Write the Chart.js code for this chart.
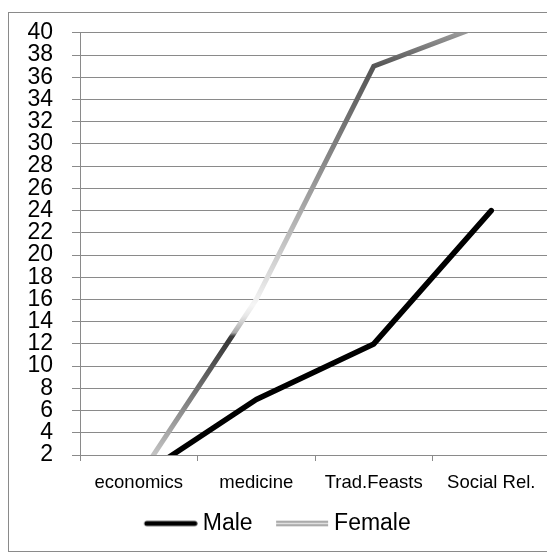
<!DOCTYPE html>
<html>
<head>
<meta charset="utf-8">
<script src="https://cdn.jsdelivr.net/npm/chart.js@4.4.1/dist/chart.umd.min.js"></script>
<style>
    body { margin: 0; background: #fff; overflow: hidden; }
    #frame { position: absolute; left: 8px; top: 12px; width: 600px; height: 538px; border: 1px solid #8a8a8a; }
    #wrap { position: absolute; left: -8px; top: 0; width: 568px; height: 558px; }
</style>
</head>
<body>
<div id="frame"></div>
<div id="wrap"><canvas id="genderChart"></canvas></div>
<script>
const categories = ['economics', 'medicine', 'Trad.Feasts', 'Social Rel.'];
const maleValues = [0, 7, 12, 24];
const femaleValues = [0, 16, 37, 41];
const yMin = 2;
const yMax = 40;
const yStep = 2;

// greyscale stops of the female line, keyed by axis value
const femaleStops = [
    [2, '#c4c4c4'], [4, '#a8a8a8'], [6, '#8c8c8c'], [8, '#707070'], [10, '#555555'],
    [12.3, '#383838'], [12.7, '#404040'], [13, '#a8a8a8'], [14.5, '#e6e6e6'],
    [15.5, '#f6f6f6'], [17.5, '#e2e2e2'], [20.5, '#c8c8c8'], [24.5, '#a6a6a6'],
    [29, '#858585'], [33.5, '#6a6a6a'], [37, '#555555'], [40, '#9a9a9a']
];

function femaleGradient(context) {
    const chart = context.chart;
    const { ctx, chartArea, scales } = chart;
    if (!chartArea) return '#999';
    const y0 = scales.y.getPixelForValue(yMin);
    const y1 = scales.y.getPixelForValue(yMax);
    const g = ctx.createLinearGradient(0, y0, 0, y1);
    femaleStops.forEach(s => g.addColorStop((s[0] - yMin) / (yMax - yMin), s[1]));
    return g;
}

// legend samples: transparent margin on the left gives the gap between items
const sampleMargin = 19;
const sampleLen = 54;
function legendImage(kind) {
    const c = document.createElement('canvas');
    const m = sampleMargin;
    c.width = m + sampleLen; c.height = 8;
    const x = c.getContext('2d');
    if (kind === 'male') {
        x.strokeStyle = '#000';
        x.lineWidth = 5;
        x.lineCap = 'round';
        x.beginPath(); x.moveTo(m + 3, 4); x.lineTo(m + sampleLen - 3, 4); x.stroke();
    } else {
        x.fillStyle = '#8f8f8f';
        x.fillRect(m + 1, 1.5, sampleLen - 2, 5);
        x.fillStyle = '#f4f4f4';
        x.fillRect(m + 1, 3.2, sampleLen - 2, 1.6);
    }
    return c;
}
const legendImgs = [legendImage('male'), legendImage('female')];

const ctx = document.getElementById('genderChart').getContext('2d');
const genderChart = new Chart(ctx, {
    type: 'line',
    data: {
        labels: categories,
        datasets: [{
            label: 'Male',
            data: maleValues,
            borderColor: '#000',
            borderWidth: 5.5,
            borderCapStyle: 'round',
            borderJoinStyle: 'round',
            pointRadius: 0,
            tension: 0,
            clip: 0
        }, {
            label: 'Female',
            data: femaleValues,
            borderColor: femaleGradient,
            borderWidth: 5,
            borderJoinStyle: 'miter',
            pointRadius: 0,
            tension: 0,
            clip: 0
        }]
    },
    options: {
        responsive: true,
        maintainAspectRatio: false,
        animation: false,
        layout: { padding: { left: 0, right: 10, top: 15.6, bottom: 13 } },
        plugins: {
            tooltip: { enabled: false },
            legend: {
                position: 'bottom',
                labels: {
                    usePointStyle: true,
                    pointStyleWidth: sampleMargin + sampleLen - 13,
                    padding: 10,
                    color: '#000',
                    font: { family: 'Liberation Sans', size: 23 },
                    generateLabels: chart => chart.data.datasets.map((ds, i) => ({
                        text: ds.label,
                        pointStyle: legendImgs[i],
                        datasetIndex: i,
                        fontColor: '#000',
                        lineWidth: 0,
                        strokeStyle: 'transparent',
                        fillStyle: 'transparent'
                    }))
                }
            }
        },
        scales: {
            x: {
                offset: true,
                grid: { offset: true, drawOnChartArea: false, drawTicks: true, tickLength: 6, color: '#8a8a8a' },
                border: { color: '#8a8a8a' },
                ticks: { color: '#000', padding: 11, font: { family: 'Liberation Sans', size: 18.5 }, maxRotation: 0 },
                afterFit: scale => { scale.height = 47; }
            },
            y: {
                min: yMin,
                max: yMax,
                grid: { color: '#8a8a8a', tickLength: 8 },
                border: { color: '#8a8a8a' },
                ticks: { stepSize: yStep, autoSkip: false, color: '#000', padding: 19, font: { family: 'Liberation Sans', size: 23 } },
                afterFit: scale => { scale.width = 88; }
            }
        }
    }
});
</script>
</body>
</html>
